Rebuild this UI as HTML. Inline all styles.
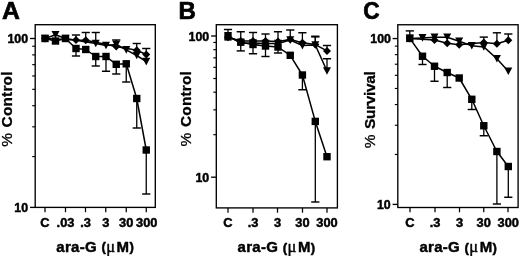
<!DOCTYPE html>
<html><head><meta charset="utf-8"><title>Figure</title>
<style>
html,body{margin:0;padding:0;background:#fff;}
body{width:520px;height:256px;overflow:hidden;}
svg{display:block;font-family:"Liberation Sans",Arial,Helvetica,sans-serif;font-weight:bold;}
text{fill:#000;stroke:#000;stroke-width:0.45px;stroke-linejoin:round;}
text.big{stroke-width:0.7px;}
</style></head><body>
<svg width="520" height="256" viewBox="0 0 520 256">
<rect width="520" height="256" fill="#fff"/>
<g>
<text class="big" transform="translate(2.1,19.25) scale(1.05,1)" font-size="23.6">A</text>
<rect x="35.2" y="24.7" width="120.1" height="182.7" fill="none" stroke="#000" stroke-width="1.35"/>
<line x1="30" y1="38.5" x2="35.2" y2="38.5" stroke="#000" stroke-width="1.35"/>
<line x1="30" y1="207.4" x2="35.2" y2="207.4" stroke="#000" stroke-width="1.35"/>
<line x1="32.2" y1="46.23" x2="35.2" y2="46.23" stroke="#000" stroke-width="1.1500000000000001"/>
<line x1="32.2" y1="54.87" x2="35.2" y2="54.87" stroke="#000" stroke-width="1.1500000000000001"/>
<line x1="32.2" y1="64.66" x2="35.2" y2="64.66" stroke="#000" stroke-width="1.1500000000000001"/>
<line x1="32.2" y1="75.97" x2="35.2" y2="75.97" stroke="#000" stroke-width="1.1500000000000001"/>
<line x1="32.2" y1="89.34" x2="35.2" y2="89.34" stroke="#000" stroke-width="1.1500000000000001"/>
<line x1="32.2" y1="105.71" x2="35.2" y2="105.71" stroke="#000" stroke-width="1.1500000000000001"/>
<line x1="32.2" y1="126.81" x2="35.2" y2="126.81" stroke="#000" stroke-width="1.1500000000000001"/>
<line x1="32.2" y1="156.56" x2="35.2" y2="156.56" stroke="#000" stroke-width="1.1500000000000001"/>
<text transform="translate(28.1,42.7) scale(1.03,1)" font-size="12" text-anchor="end" >100</text>
<text transform="translate(28.1,212.1) scale(1.03,1)" font-size="12" text-anchor="end" >10</text>
<line x1="45" y1="207.4" x2="45" y2="212.2" stroke="#000" stroke-width="1.25"/>
<text transform="translate(45,226.8) scale(1.07,1)" font-size="12" text-anchor="middle" >C</text>
<line x1="65.5" y1="207.4" x2="65.5" y2="212.2" stroke="#000" stroke-width="1.25"/>
<text transform="translate(65.5,226.8) scale(1.07,1)" font-size="12" text-anchor="middle" >.03</text>
<line x1="85.5" y1="207.4" x2="85.5" y2="212.2" stroke="#000" stroke-width="1.25"/>
<text transform="translate(85.5,226.8) scale(1.07,1)" font-size="12" text-anchor="middle" >.3</text>
<line x1="105.75" y1="207.4" x2="105.75" y2="212.2" stroke="#000" stroke-width="1.25"/>
<text transform="translate(105.75,226.8) scale(1.07,1)" font-size="12" text-anchor="middle" >3</text>
<line x1="126.25" y1="207.4" x2="126.25" y2="212.2" stroke="#000" stroke-width="1.25"/>
<text transform="translate(126.25,226.8) scale(1.07,1)" font-size="12" text-anchor="middle" >30</text>
<line x1="146.25" y1="207.4" x2="146.25" y2="212.2" stroke="#000" stroke-width="1.25"/>
<text transform="translate(146.7,226.8) scale(1.07,1)" font-size="12" text-anchor="middle" >300</text>
<text x="95.2" y="252.0" font-size="15" text-anchor="middle" letter-spacing="0.3">ara-G <tspan font-size="13.2" dy="-0.8">(</tspan><tspan font-family="'Liberation Serif','DejaVu Serif',serif" font-weight="normal" font-size="16.5" dx="0" dy="0.8">μ</tspan><tspan dx="1.3">M</tspan><tspan font-size="13.2" dy="-0.8">)</tspan></text>
<text transform="translate(12.2,146.8) rotate(-90)" font-size="15.4" text-anchor="start" style="stroke-width:0.3px" letter-spacing="0.2"><tspan font-weight="normal">%</tspan> <tspan dx="1.0">Control</tspan></text>
<polyline points="45,38.5 76,40 85.75,40.25 116.25,46.5 136.75,50.3 146.25,54.5" fill="none" stroke="#000" stroke-width="1.5" stroke-linejoin="round"/>
<polyline points="45,38.5 55.5,34.8 65.5,38.5 95.75,43.5 106,45.5 116.25,44.5 126.25,49.9 136.75,55.5 146.25,61.6" fill="none" stroke="#000" stroke-width="1.5" stroke-linejoin="round"/>
<polyline points="45,38.5 55.5,41 65.5,38.5 76,48.5 85.75,49.5 95.75,56.5 106,56.5 116.25,64.3 126.25,63.8 136.75,98.5 146.25,150" fill="none" stroke="#000" stroke-width="1.5" stroke-linejoin="round"/>
<line x1="76" y1="40" x2="76" y2="35" stroke="#000" stroke-width="1.3"/>
<line x1="71.9" y1="35" x2="80.1" y2="35" stroke="#000" stroke-width="1.45"/>
<line x1="76" y1="48.5" x2="76" y2="56" stroke="#000" stroke-width="1.3"/>
<line x1="71.9" y1="56" x2="80.1" y2="56" stroke="#000" stroke-width="1.45"/>
<line x1="85.75" y1="40.25" x2="85.75" y2="32.5" stroke="#000" stroke-width="1.3"/>
<line x1="81.65" y1="32.5" x2="89.85" y2="32.5" stroke="#000" stroke-width="1.45"/>
<line x1="95.75" y1="43.5" x2="95.75" y2="32.5" stroke="#000" stroke-width="1.3"/>
<line x1="91.65" y1="32.5" x2="99.85" y2="32.5" stroke="#000" stroke-width="1.45"/>
<line x1="95.75" y1="56.5" x2="95.75" y2="66" stroke="#000" stroke-width="1.3"/>
<line x1="91.65" y1="66" x2="99.85" y2="66" stroke="#000" stroke-width="1.45"/>
<line x1="106" y1="56.5" x2="106" y2="71.25" stroke="#000" stroke-width="1.3"/>
<line x1="101.9" y1="71.25" x2="110.1" y2="71.25" stroke="#000" stroke-width="1.45"/>
<line x1="116.25" y1="44.5" x2="116.25" y2="40" stroke="#000" stroke-width="1.3"/>
<line x1="112.15" y1="40" x2="120.35" y2="40" stroke="#000" stroke-width="1.45"/>
<line x1="116.25" y1="64.3" x2="116.25" y2="74" stroke="#000" stroke-width="1.3"/>
<line x1="112.15" y1="74" x2="120.35" y2="74" stroke="#000" stroke-width="1.45"/>
<line x1="126.25" y1="63.8" x2="126.25" y2="82" stroke="#000" stroke-width="1.3"/>
<line x1="122.15" y1="82" x2="130.35" y2="82" stroke="#000" stroke-width="1.45"/>
<line x1="136.75" y1="50.3" x2="136.75" y2="43.5" stroke="#000" stroke-width="1.3"/>
<line x1="132.65" y1="43.5" x2="140.85" y2="43.5" stroke="#000" stroke-width="1.45"/>
<line x1="136.75" y1="98.5" x2="136.75" y2="128" stroke="#000" stroke-width="1.3"/>
<line x1="132.65" y1="128" x2="140.85" y2="128" stroke="#000" stroke-width="1.45"/>
<line x1="146.25" y1="54.5" x2="146.25" y2="48.5" stroke="#000" stroke-width="1.3"/>
<line x1="142.15" y1="48.5" x2="150.35" y2="48.5" stroke="#000" stroke-width="1.45"/>
<line x1="146.25" y1="150" x2="146.25" y2="194" stroke="#000" stroke-width="1.3"/>
<line x1="142.15" y1="194" x2="150.35" y2="194" stroke="#000" stroke-width="1.45"/>
<polygon points="45,34.5 49,38.5 45,42.5 41,38.5" fill="#000"/>
<polygon points="41,34.7 49,34.7 45,42.3" fill="#000"/>
<rect x="41.3" y="34.8" width="7.4" height="7.4" fill="#000"/>
<polygon points="51.5,31 59.5,31 55.5,38.6" fill="#000"/>
<rect x="51.8" y="37.3" width="7.4" height="7.4" fill="#000"/>
<polygon points="61.5,34.7 69.5,34.7 65.5,42.3" fill="#000"/>
<rect x="61.8" y="34.8" width="7.4" height="7.4" fill="#000"/>
<polygon points="76,36 80,40 76,44 72,40" fill="#000"/>
<rect x="72.3" y="44.8" width="7.4" height="7.4" fill="#000"/>
<polygon points="85.75,36.25 89.75,40.25 85.75,44.25 81.75,40.25" fill="#000"/>
<rect x="82.05" y="45.8" width="7.4" height="7.4" fill="#000"/>
<polygon points="91.75,39.7 99.75,39.7 95.75,47.3" fill="#000"/>
<rect x="92.05" y="52.8" width="7.4" height="7.4" fill="#000"/>
<polygon points="102,41.7 110,41.7 106,49.3" fill="#000"/>
<rect x="102.3" y="52.8" width="7.4" height="7.4" fill="#000"/>
<polygon points="116.25,42.5 120.25,46.5 116.25,50.5 112.25,46.5" fill="#000"/>
<polygon points="112.25,40.7 120.25,40.7 116.25,48.3" fill="#000"/>
<rect x="112.55" y="60.6" width="7.4" height="7.4" fill="#000"/>
<polygon points="122.25,46.1 130.25,46.1 126.25,53.7" fill="#000"/>
<rect x="122.55" y="60.1" width="7.4" height="7.4" fill="#000"/>
<polygon points="136.75,46.3 140.75,50.3 136.75,54.3 132.75,50.3" fill="#000"/>
<polygon points="132.75,51.7 140.75,51.7 136.75,59.3" fill="#000"/>
<rect x="133.05" y="94.8" width="7.4" height="7.4" fill="#000"/>
<polygon points="146.25,50.5 150.25,54.5 146.25,58.5 142.25,54.5" fill="#000"/>
<polygon points="142.25,57.8 150.25,57.8 146.25,65.4" fill="#000"/>
<rect x="142.55" y="146.3" width="7.4" height="7.4" fill="#000"/>
</g>
<g>
<text class="big" transform="translate(178.45,19.25) scale(1.02,1)" font-size="23.6">B</text>
<rect x="216.3" y="24.7" width="121.1" height="183.2" fill="none" stroke="#000" stroke-width="1.35"/>
<line x1="211.1" y1="36" x2="216.3" y2="36" stroke="#000" stroke-width="1.35"/>
<line x1="211.1" y1="177.2" x2="216.3" y2="177.2" stroke="#000" stroke-width="1.35"/>
<line x1="213.3" y1="42.46" x2="216.3" y2="42.46" stroke="#000" stroke-width="1.1500000000000001"/>
<line x1="213.3" y1="49.68" x2="216.3" y2="49.68" stroke="#000" stroke-width="1.1500000000000001"/>
<line x1="213.3" y1="57.87" x2="216.3" y2="57.87" stroke="#000" stroke-width="1.1500000000000001"/>
<line x1="213.3" y1="67.33" x2="216.3" y2="67.33" stroke="#000" stroke-width="1.1500000000000001"/>
<line x1="213.3" y1="78.51" x2="216.3" y2="78.51" stroke="#000" stroke-width="1.1500000000000001"/>
<line x1="213.3" y1="92.19" x2="216.3" y2="92.19" stroke="#000" stroke-width="1.1500000000000001"/>
<line x1="213.3" y1="109.83" x2="216.3" y2="109.83" stroke="#000" stroke-width="1.1500000000000001"/>
<line x1="213.3" y1="134.69" x2="216.3" y2="134.69" stroke="#000" stroke-width="1.1500000000000001"/>
<text transform="translate(209.2,41.05) scale(1.03,1)" font-size="12" text-anchor="end" >100</text>
<text transform="translate(209.2,182.2) scale(1.03,1)" font-size="12" text-anchor="end" >10</text>
<line x1="228" y1="207.9" x2="228" y2="212.7" stroke="#000" stroke-width="1.25"/>
<text transform="translate(228,226.8) scale(1.07,1)" font-size="12" text-anchor="middle" >C</text>
<line x1="253" y1="207.9" x2="253" y2="212.7" stroke="#000" stroke-width="1.25"/>
<text transform="translate(253,226.8) scale(1.07,1)" font-size="12" text-anchor="middle" >.3</text>
<line x1="277.5" y1="207.9" x2="277.5" y2="212.7" stroke="#000" stroke-width="1.25"/>
<text transform="translate(277.5,226.8) scale(1.07,1)" font-size="12" text-anchor="middle" >3</text>
<line x1="302.5" y1="207.9" x2="302.5" y2="212.7" stroke="#000" stroke-width="1.25"/>
<text transform="translate(302.5,226.8) scale(1.07,1)" font-size="12" text-anchor="middle" >30</text>
<line x1="327" y1="207.9" x2="327" y2="212.7" stroke="#000" stroke-width="1.25"/>
<text transform="translate(327,226.8) scale(1.07,1)" font-size="12" text-anchor="middle" >300</text>
<text x="276.5" y="252.3" font-size="15" text-anchor="middle" letter-spacing="0.3">ara-G <tspan font-size="13.2" dy="-0.8">(</tspan><tspan font-family="'Liberation Serif','DejaVu Serif',serif" font-weight="normal" font-size="16.5" dx="0" dy="0.8">μ</tspan><tspan dx="1.3">M</tspan><tspan font-size="13.2" dy="-0.8">)</tspan></text>
<text transform="translate(191.2,146.4) rotate(-90)" font-size="15.4" text-anchor="start" style="stroke-width:0.3px" letter-spacing="0.2"><tspan font-weight="normal">%</tspan> <tspan dx="1.0">Control</tspan></text>
<polyline points="228,37.3 240.75,41 253,41 265.5,41.1 278,41.6 290.25,39.5 302.4,42.75 315.3,44.6 327,50.9" fill="none" stroke="#000" stroke-width="1.5" stroke-linejoin="round"/>
<polyline points="228,35.8 240.75,43.2 253,43 265.5,43.5 278,43.5 290.25,40 302.4,45.6 315.3,45 327,71" fill="none" stroke="#000" stroke-width="1.5" stroke-linejoin="round"/>
<polyline points="228,36.9 240.75,42.2 253,44.5 265.5,46 278,47 290.25,55.3 302.4,75 315.3,121.4 327,156.7" fill="none" stroke="#000" stroke-width="1.5" stroke-linejoin="round"/>
<line x1="228" y1="36.9" x2="228" y2="29.5" stroke="#000" stroke-width="1.3"/>
<line x1="223.9" y1="29.5" x2="232.1" y2="29.5" stroke="#000" stroke-width="1.45"/>
<line x1="240.75" y1="42.2" x2="240.75" y2="31.75" stroke="#000" stroke-width="1.3"/>
<line x1="236.65" y1="31.75" x2="244.85" y2="31.75" stroke="#000" stroke-width="1.45"/>
<line x1="240.75" y1="42.2" x2="240.75" y2="50.9" stroke="#000" stroke-width="1.3"/>
<line x1="236.65" y1="50.9" x2="244.85" y2="50.9" stroke="#000" stroke-width="1.45"/>
<line x1="253" y1="44.5" x2="253" y2="32.5" stroke="#000" stroke-width="1.3"/>
<line x1="248.9" y1="32.5" x2="257.1" y2="32.5" stroke="#000" stroke-width="1.45"/>
<line x1="253" y1="44.5" x2="253" y2="53.75" stroke="#000" stroke-width="1.3"/>
<line x1="248.9" y1="53.75" x2="257.1" y2="53.75" stroke="#000" stroke-width="1.45"/>
<line x1="265.5" y1="46" x2="265.5" y2="34" stroke="#000" stroke-width="1.3"/>
<line x1="261.4" y1="34" x2="269.6" y2="34" stroke="#000" stroke-width="1.45"/>
<line x1="265.5" y1="46" x2="265.5" y2="56.5" stroke="#000" stroke-width="1.3"/>
<line x1="261.4" y1="56.5" x2="269.6" y2="56.5" stroke="#000" stroke-width="1.45"/>
<line x1="278" y1="47" x2="278" y2="31.75" stroke="#000" stroke-width="1.3"/>
<line x1="273.9" y1="31.75" x2="282.1" y2="31.75" stroke="#000" stroke-width="1.45"/>
<line x1="278" y1="47" x2="278" y2="53" stroke="#000" stroke-width="1.3"/>
<line x1="273.9" y1="53" x2="282.1" y2="53" stroke="#000" stroke-width="1.45"/>
<line x1="290.25" y1="39.5" x2="290.25" y2="30" stroke="#000" stroke-width="1.3"/>
<line x1="286.15" y1="30" x2="294.35" y2="30" stroke="#000" stroke-width="1.45"/>
<line x1="302.4" y1="42.75" x2="302.4" y2="32.75" stroke="#000" stroke-width="1.3"/>
<line x1="298.3" y1="32.75" x2="306.5" y2="32.75" stroke="#000" stroke-width="1.45"/>
<line x1="302.4" y1="75" x2="302.4" y2="89.75" stroke="#000" stroke-width="1.3"/>
<line x1="298.3" y1="89.75" x2="306.5" y2="89.75" stroke="#000" stroke-width="1.45"/>
<line x1="315.3" y1="44.6" x2="315.3" y2="36.25" stroke="#000" stroke-width="1.3"/>
<line x1="311.2" y1="36.25" x2="319.4" y2="36.25" stroke="#000" stroke-width="1.45"/>
<line x1="315.3" y1="45" x2="315.3" y2="36.9" stroke="#000" stroke-width="1.3"/>
<line x1="311.2" y1="36.9" x2="319.4" y2="36.9" stroke="#000" stroke-width="1.45"/>
<line x1="315.3" y1="121.4" x2="315.3" y2="202" stroke="#000" stroke-width="1.3"/>
<line x1="311.2" y1="202" x2="319.4" y2="202" stroke="#000" stroke-width="1.45"/>
<line x1="327" y1="50.9" x2="327" y2="45.5" stroke="#000" stroke-width="1.3"/>
<line x1="322.9" y1="45.5" x2="331.1" y2="45.5" stroke="#000" stroke-width="1.45"/>
<line x1="327" y1="71" x2="327" y2="58.75" stroke="#000" stroke-width="1.3"/>
<line x1="322.9" y1="58.75" x2="331.1" y2="58.75" stroke="#000" stroke-width="1.45"/>
<polygon points="228,33.3 232,37.3 228,41.3 224,37.3" fill="#000"/>
<polygon points="224,32 232,32 228,39.6" fill="#000"/>
<rect x="224.3" y="33.2" width="7.4" height="7.4" fill="#000"/>
<polygon points="240.75,37 244.75,41 240.75,45 236.75,41" fill="#000"/>
<polygon points="236.75,39.4 244.75,39.4 240.75,47" fill="#000"/>
<rect x="237.05" y="38.5" width="7.4" height="7.4" fill="#000"/>
<polygon points="253,37 257,41 253,45 249,41" fill="#000"/>
<polygon points="249,39.2 257,39.2 253,46.8" fill="#000"/>
<rect x="249.3" y="40.8" width="7.4" height="7.4" fill="#000"/>
<polygon points="265.5,37.1 269.5,41.1 265.5,45.1 261.5,41.1" fill="#000"/>
<polygon points="261.5,39.7 269.5,39.7 265.5,47.3" fill="#000"/>
<rect x="261.8" y="42.3" width="7.4" height="7.4" fill="#000"/>
<polygon points="278,37.6 282,41.6 278,45.6 274,41.6" fill="#000"/>
<polygon points="274,39.7 282,39.7 278,47.3" fill="#000"/>
<rect x="274.3" y="43.3" width="7.4" height="7.4" fill="#000"/>
<polygon points="290.25,35.5 294.25,39.5 290.25,43.5 286.25,39.5" fill="#000"/>
<polygon points="286.25,36.2 294.25,36.2 290.25,43.8" fill="#000"/>
<rect x="286.55" y="51.6" width="7.4" height="7.4" fill="#000"/>
<polygon points="302.4,38.75 306.4,42.75 302.4,46.75 298.4,42.75" fill="#000"/>
<polygon points="298.4,41.8 306.4,41.8 302.4,49.4" fill="#000"/>
<rect x="298.7" y="71.3" width="7.4" height="7.4" fill="#000"/>
<polygon points="315.3,40.6 319.3,44.6 315.3,48.6 311.3,44.6" fill="#000"/>
<polygon points="311.3,41.2 319.3,41.2 315.3,48.8" fill="#000"/>
<rect x="311.6" y="117.7" width="7.4" height="7.4" fill="#000"/>
<polygon points="327,46.9 331,50.9 327,54.9 323,50.9" fill="#000"/>
<polygon points="323,67.2 331,67.2 327,74.8" fill="#000"/>
<rect x="323.3" y="153" width="7.4" height="7.4" fill="#000"/>
</g>
<g>
<text class="big" transform="translate(363.3,19.25) scale(0.96,1)" font-size="23.6">C</text>
<rect x="397.8" y="24.75" width="120.3" height="182.75" fill="none" stroke="#000" stroke-width="1.35"/>
<line x1="392.6" y1="38.55" x2="397.8" y2="38.55" stroke="#000" stroke-width="1.35"/>
<line x1="392.6" y1="204.4" x2="397.8" y2="204.4" stroke="#000" stroke-width="1.35"/>
<line x1="394.8" y1="46.14" x2="397.8" y2="46.14" stroke="#000" stroke-width="1.1500000000000001"/>
<line x1="394.8" y1="54.62" x2="397.8" y2="54.62" stroke="#000" stroke-width="1.1500000000000001"/>
<line x1="394.8" y1="64.24" x2="397.8" y2="64.24" stroke="#000" stroke-width="1.1500000000000001"/>
<line x1="394.8" y1="75.34" x2="397.8" y2="75.34" stroke="#000" stroke-width="1.1500000000000001"/>
<line x1="394.8" y1="88.48" x2="397.8" y2="88.48" stroke="#000" stroke-width="1.1500000000000001"/>
<line x1="394.8" y1="104.55" x2="397.8" y2="104.55" stroke="#000" stroke-width="1.1500000000000001"/>
<line x1="394.8" y1="125.27" x2="397.8" y2="125.27" stroke="#000" stroke-width="1.1500000000000001"/>
<line x1="394.8" y1="154.47" x2="397.8" y2="154.47" stroke="#000" stroke-width="1.1500000000000001"/>
<text transform="translate(390.95,43.05) scale(1.03,1)" font-size="12" text-anchor="end" >100</text>
<text transform="translate(390.7,209.4) scale(1.03,1)" font-size="12" text-anchor="end" >10</text>
<line x1="410" y1="207.5" x2="410" y2="212.3" stroke="#000" stroke-width="1.25"/>
<text transform="translate(410,226.8) scale(1.07,1)" font-size="12" text-anchor="middle" >C</text>
<line x1="435" y1="207.5" x2="435" y2="212.3" stroke="#000" stroke-width="1.25"/>
<text transform="translate(435,226.8) scale(1.07,1)" font-size="12" text-anchor="middle" >.3</text>
<line x1="459.5" y1="207.5" x2="459.5" y2="212.3" stroke="#000" stroke-width="1.25"/>
<text transform="translate(459.5,226.8) scale(1.07,1)" font-size="12" text-anchor="middle" >3</text>
<line x1="483.75" y1="207.5" x2="483.75" y2="212.3" stroke="#000" stroke-width="1.25"/>
<text transform="translate(483.75,226.8) scale(1.07,1)" font-size="12" text-anchor="middle" >30</text>
<line x1="508" y1="207.5" x2="508" y2="212.3" stroke="#000" stroke-width="1.25"/>
<text transform="translate(508.3,226.8) scale(1.07,1)" font-size="12" text-anchor="middle" >300</text>
<text x="458.3" y="252.3" font-size="15" text-anchor="middle" letter-spacing="0.3">ara-G <tspan font-size="13.2" dy="-0.8">(</tspan><tspan font-family="'Liberation Serif','DejaVu Serif',serif" font-weight="normal" font-size="16.5" dx="0" dy="0.8">μ</tspan><tspan dx="1.3">M</tspan><tspan font-size="13.2" dy="-0.8">)</tspan></text>
<text transform="translate(375.1,148.2) rotate(-90)" font-size="15.4" text-anchor="start" style="stroke-width:0.3px" letter-spacing="-0.3"><tspan font-weight="normal">%</tspan> <tspan dx="1.9">Survival</tspan></text>
<polyline points="409.8,38.4 434.5,40 447.2,43.3 459.2,44.8 483.8,42.6 496.9,43.7 508.3,40.2" fill="none" stroke="#000" stroke-width="1.5" stroke-linejoin="round"/>
<polyline points="409.8,38.4 422.5,37.9 434.5,37.3 447.2,37.3 459.2,41.2 471.8,45.75 483.8,46.9 496.9,58.75 508.3,71.25" fill="none" stroke="#000" stroke-width="1.5" stroke-linejoin="round"/>
<polyline points="409.8,38.4 422.5,56.25 434.5,66.25 447.2,72.5 459.2,78 471.8,99.3 483.8,125.75 496.9,151.5 508.3,166.5" fill="none" stroke="#000" stroke-width="1.5" stroke-linejoin="round"/>
<line x1="409.8" y1="38.4" x2="409.8" y2="30.9" stroke="#000" stroke-width="1.3"/>
<line x1="405.7" y1="30.9" x2="413.9" y2="30.9" stroke="#000" stroke-width="1.45"/>
<line x1="422.5" y1="56.25" x2="422.5" y2="64.5" stroke="#000" stroke-width="1.3"/>
<line x1="418.4" y1="64.5" x2="426.6" y2="64.5" stroke="#000" stroke-width="1.45"/>
<line x1="434.5" y1="66.25" x2="434.5" y2="81.25" stroke="#000" stroke-width="1.3"/>
<line x1="430.4" y1="81.25" x2="438.6" y2="81.25" stroke="#000" stroke-width="1.45"/>
<line x1="447.2" y1="72.5" x2="447.2" y2="87.5" stroke="#000" stroke-width="1.3"/>
<line x1="443.1" y1="87.5" x2="451.3" y2="87.5" stroke="#000" stroke-width="1.45"/>
<line x1="471.8" y1="99.3" x2="471.8" y2="109.5" stroke="#000" stroke-width="1.3"/>
<line x1="467.7" y1="109.5" x2="475.9" y2="109.5" stroke="#000" stroke-width="1.45"/>
<line x1="483.8" y1="42.6" x2="483.8" y2="37.1" stroke="#000" stroke-width="1.3"/>
<line x1="479.7" y1="37.1" x2="487.9" y2="37.1" stroke="#000" stroke-width="1.45"/>
<line x1="483.8" y1="125.75" x2="483.8" y2="135.75" stroke="#000" stroke-width="1.3"/>
<line x1="479.7" y1="135.75" x2="487.9" y2="135.75" stroke="#000" stroke-width="1.45"/>
<line x1="496.9" y1="43.7" x2="496.9" y2="32.8" stroke="#000" stroke-width="1.3"/>
<line x1="492.8" y1="32.8" x2="501" y2="32.8" stroke="#000" stroke-width="1.45"/>
<line x1="496.9" y1="151.5" x2="496.9" y2="204" stroke="#000" stroke-width="1.3"/>
<line x1="492.8" y1="204" x2="501" y2="204" stroke="#000" stroke-width="1.45"/>
<line x1="508.3" y1="40.2" x2="508.3" y2="34" stroke="#000" stroke-width="1.3"/>
<line x1="504.2" y1="34" x2="512.4" y2="34" stroke="#000" stroke-width="1.45"/>
<line x1="508.3" y1="166.5" x2="508.3" y2="197.25" stroke="#000" stroke-width="1.3"/>
<line x1="504.2" y1="197.25" x2="512.4" y2="197.25" stroke="#000" stroke-width="1.45"/>
<polygon points="409.8,34.4 413.8,38.4 409.8,42.4 405.8,38.4" fill="#000"/>
<polygon points="405.8,34.6 413.8,34.6 409.8,42.2" fill="#000"/>
<rect x="406.1" y="34.7" width="7.4" height="7.4" fill="#000"/>
<polygon points="418.5,34.1 426.5,34.1 422.5,41.7" fill="#000"/>
<rect x="418.8" y="52.55" width="7.4" height="7.4" fill="#000"/>
<polygon points="434.5,36 438.5,40 434.5,44 430.5,40" fill="#000"/>
<polygon points="430.5,33.5 438.5,33.5 434.5,41.1" fill="#000"/>
<rect x="430.8" y="62.55" width="7.4" height="7.4" fill="#000"/>
<polygon points="447.2,39.3 451.2,43.3 447.2,47.3 443.2,43.3" fill="#000"/>
<polygon points="443.2,33.5 451.2,33.5 447.2,41.1" fill="#000"/>
<rect x="443.5" y="68.8" width="7.4" height="7.4" fill="#000"/>
<polygon points="459.2,40.8 463.2,44.8 459.2,48.8 455.2,44.8" fill="#000"/>
<polygon points="455.2,37.4 463.2,37.4 459.2,45" fill="#000"/>
<rect x="455.5" y="74.3" width="7.4" height="7.4" fill="#000"/>
<polygon points="467.8,41.95 475.8,41.95 471.8,49.55" fill="#000"/>
<rect x="468.1" y="95.6" width="7.4" height="7.4" fill="#000"/>
<polygon points="483.8,38.6 487.8,42.6 483.8,46.6 479.8,42.6" fill="#000"/>
<polygon points="479.8,43.1 487.8,43.1 483.8,50.7" fill="#000"/>
<rect x="480.1" y="122.05" width="7.4" height="7.4" fill="#000"/>
<polygon points="496.9,39.7 500.9,43.7 496.9,47.7 492.9,43.7" fill="#000"/>
<polygon points="492.9,54.95 500.9,54.95 496.9,62.55" fill="#000"/>
<rect x="493.2" y="147.8" width="7.4" height="7.4" fill="#000"/>
<polygon points="508.3,36.2 512.3,40.2 508.3,44.2 504.3,40.2" fill="#000"/>
<polygon points="504.3,67.45 512.3,67.45 508.3,75.05" fill="#000"/>
<rect x="504.6" y="162.8" width="7.4" height="7.4" fill="#000"/>
</g>
</svg>
</body></html>
